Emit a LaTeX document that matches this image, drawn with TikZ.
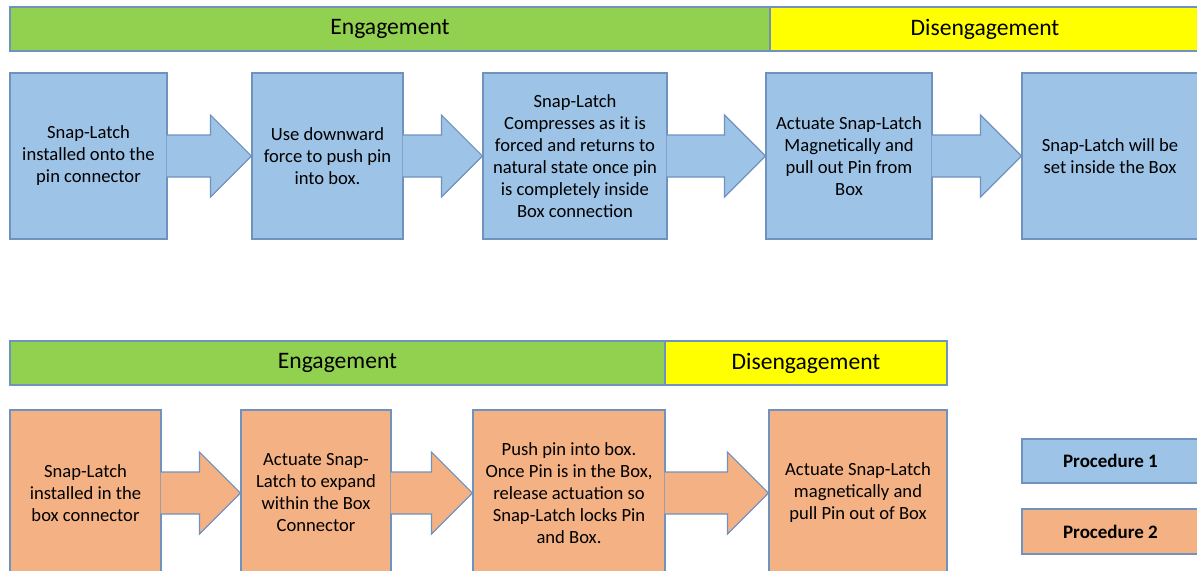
\documentclass[tikz,border=0pt]{standalone}
\usepackage{fontspec}
\setmainfont{Carlito}
\usetikzlibrary{calc}
\definecolor{procblue}{RGB}{157,195,230}
\definecolor{procorange}{RGB}{244,177,131}
\definecolor{phasegreen}{RGB}{146,208,80}
\definecolor{phaseyellow}{RGB}{255,255,0}
\definecolor{edgeclr}{RGB}{112,146,190}
% block arrow from one box to the next
\newcommand{\flowarrow}[3]{%
    \draw[draw=edgeclr, fill=#3, line width=0.6pt, line join=miter]
    ($(#1.east)+(-1,21)$) -- ($(#2.west)+(-41,21)$) -- ($(#2.west)+(-41,41)$)
    -- (#2.west) -- ($(#2.west)+(-41,-41)$) -- ($(#2.west)+(-41,-21)$)
    -- ($(#1.east)+(-1,-21)$);
}
\begin{document}
\begin{tikzpicture}[x=0.5pt, y=-0.5pt,
    box/.style={draw=edgeclr, line width=0.6pt, inner sep=0pt, align=center,
        minimum height=83pt, font=\fontsize{9.3}{11}\selectfont},
    phase/.style={draw=edgeclr, line width=0.6pt, inner sep=0pt,
        minimum height=22pt, font=\fontsize{11.8}{13}\selectfont},
    legend/.style={draw=edgeclr, line width=0.6pt, inner sep=0pt,
        minimum height=22pt, minimum width=88.5pt,
        font=\fontsize{9.5}{11}\selectfont\bfseries}]
    \useasboundingbox (0,0) rectangle (1197,570);
    \clip (0,0) rectangle (1197,570);

    % procedure 1
    \node[phase, fill=phasegreen, minimum width=380pt] (eng1) at (390, 29) {Engagement};
    \node[phase, fill=phaseyellow, minimum width=215pt] (dis1) at (985, 29) {Disengagement};

    \node[box, fill=procblue, minimum width=78.5pt] (a1) at (88.5, 156)
        {Snap-Latch\\installed onto the\\pin connector};
    \node[box, fill=procblue, minimum width=75.5pt] (a2) at (327.5, 156)
        {Use downward\\force to push pin\\into box.};
    \node[box, fill=procblue, minimum width=92pt] (a3) at (575, 156)
        {Snap-Latch\\Compresses as it is\\forced and returns to\\natural state once pin\\is completely inside\\Box connection};
    \node[box, fill=procblue, minimum width=83pt] (a4) at (849, 156)
        {Actuate Snap-Latch\\Magnetically and\\pull out Pin from\\Box};
    \node[box, fill=procblue, minimum width=88pt] (a5) at (1110, 156)
        {Snap-Latch will be\\set inside the Box};

    \flowarrow{a1}{a2}{procblue}
    \flowarrow{a2}{a3}{procblue}
    \flowarrow{a3}{a4}{procblue}
    \flowarrow{a4}{a5}{procblue}

    % procedure 2
    \node[phase, fill=phasegreen, minimum width=327.5pt] (eng2) at (337.5, 363) {Engagement};
    \node[phase, fill=phaseyellow, minimum width=141pt] (dis2) at (806, 363) {Disengagement};

    \node[box, fill=procorange, minimum width=75.5pt] (b1) at (85.5, 493)
        {Snap-Latch\\installed in the\\box connector};
    \node[box, fill=procorange, minimum width=75pt] (b2) at (316, 493)
        {Actuate Snap-\\Latch to expand\\within the Box\\Connector};
    \node[box, fill=procorange, minimum width=96pt] (b3) at (569, 493)
        {Push pin into box.\\Once Pin is in the Box,\\release actuation so\\Snap-Latch locks Pin\\and Box.};
    \node[box, fill=procorange, minimum width=89pt] (b4) at (858, 493)
        {Actuate Snap-Latch\\magnetically and\\pull Pin out of Box};

    \flowarrow{b1}{b2}{procorange}
    \flowarrow{b2}{b3}{procorange}
    \flowarrow{b3}{b4}{procorange}

    % legend
    \node[legend, fill=procblue] (leg1) at (1110.5, 461) {Procedure 1};
    \node[legend, fill=procorange, minimum height=22.5pt] (leg2) at (1110.5, 531.5) {Procedure 2};
\end{tikzpicture}
\end{document}
